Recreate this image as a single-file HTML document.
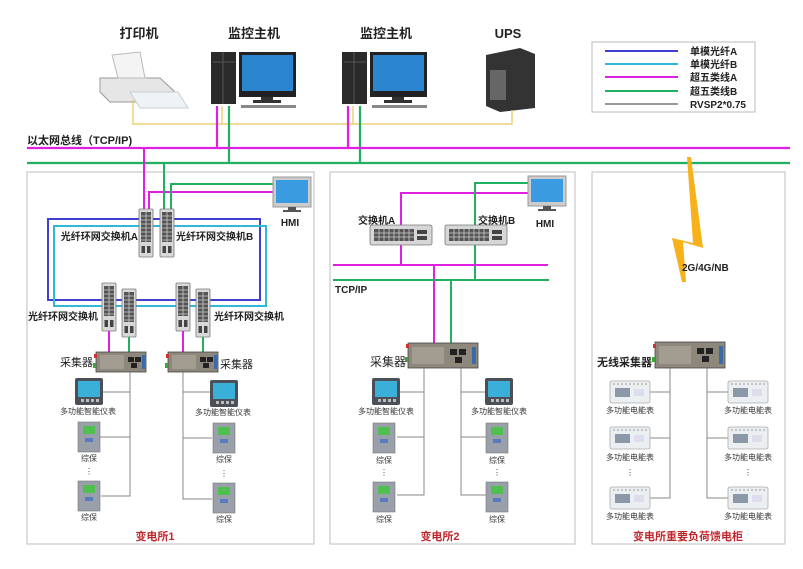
<!DOCTYPE html>
<html><head><meta charset="utf-8"><style>
html,body{margin:0;padding:0;background:#fff;}
svg{display:block;font-family:"Liberation Sans","Noto Sans CJK SC",sans-serif;}
.b{font-weight:bold;}
</style></head><body>
<svg width="803" height="569" viewBox="0 0 803 569" xmlns="http://www.w3.org/2000/svg">
<defs>
 <g id="sw">
  <rect x="0" y="0" width="14" height="48" rx="1" fill="#d8d8d8" stroke="#777" stroke-width="0.8"/>
  <rect x="2" y="3" width="10" height="30" fill="#555"/>
  <path d="M2 7H12M2 11H12M2 15H12M2 19H12M2 23H12M2 27H12M2 31H12M7 3V33" stroke="#ccc" stroke-width="0.8"/>
  <rect x="2.5" y="37" width="3.5" height="7" fill="#444"/><rect x="8" y="37" width="3.5" height="7" fill="#444"/>
 </g>
 <g id="sw2">
  <rect x="0" y="0" width="62" height="20" rx="2" fill="#d6d6d6" stroke="#777" stroke-width="0.8"/>
  <rect x="4" y="4" width="40" height="12" fill="#555"/>
  <path d="M4 8H44M4 12H44M9 4V16M14 4V16M19 4V16M24 4V16M29 4V16M34 4V16M39 4V16" stroke="#ccc" stroke-width="0.8"/>
  <rect x="47" y="5" width="10" height="4" fill="#444"/><rect x="47" y="11" width="10" height="4" fill="#444"/>
 </g>
 <g id="col">
  <rect x="0" y="0" width="50" height="20" fill="#8e877c" stroke="#444" stroke-width="0.8"/>
  <rect x="4" y="3" width="24" height="14" fill="#a39c90"/>
  <rect x="32" y="5" width="6" height="5" fill="#222"/><rect x="39" y="5" width="6" height="5" fill="#222"/><rect x="35" y="11" width="6" height="5" fill="#222"/>
  <rect x="46" y="3" width="3" height="14" fill="#3a6aa8"/>
  <rect x="-3" y="11" width="3" height="5" fill="#3a3"/><rect x="-2" y="2" width="3" height="4" fill="#c33"/>
 </g>
 <g id="met">
  <rect x="0" y="0" width="28" height="27" rx="2" fill="#4a4f58"/>
  <rect x="3" y="3" width="22" height="16" fill="#3ab0d8"/>
  <rect x="6" y="21" width="3" height="3" fill="#bbb"/><rect x="11" y="21" width="3" height="3" fill="#bbb"/><rect x="16" y="21" width="3" height="3" fill="#bbb"/><rect x="21" y="21" width="3" height="3" fill="#bbb"/>
 </g>
 <g id="rel">
  <rect x="0" y="0" width="22" height="30" fill="#9aa0aa" stroke="#777" stroke-width="0.6"/>
  <rect x="5" y="4" width="12" height="8" fill="#4fbf4f"/>
  <rect x="7" y="16" width="8" height="4" fill="#5a7ac0"/>
 </g>
 <g id="em">
  <rect x="0" y="0" width="40" height="22" rx="2" fill="#eceff2" stroke="#aaa" stroke-width="0.8"/>
  <path d="M3 3H37" stroke="#999" stroke-dasharray="2 2"/>
  <rect x="5" y="7" width="15" height="9" fill="#8a98a8"/>
  <rect x="24" y="8" width="10" height="7" fill="#dde"/>
 </g>
 <g id="hmi">
  <rect x="0" y="0" width="38" height="30" fill="#ccc" stroke="#999"/>
  <rect x="3" y="3" width="32" height="23" fill="#3a9be0"/>
  <rect x="15" y="30" width="8" height="3" fill="#555"/><rect x="10" y="33" width="18" height="2" fill="#555"/>
 </g>
 <g id="pc">
  <rect x="0" y="0" width="25" height="52" fill="#2a2a2a"/>
  <path d="M12 0V52M2 10H24" stroke="#555"/>
  <rect x="28" y="0" width="57" height="45" fill="#222"/>
  <rect x="31" y="3" width="51" height="36" fill="#2b86cf"/>
  <rect x="50" y="45" width="12" height="5" fill="#333"/><rect x="42" y="48" width="28" height="3" fill="#333"/>
  <rect x="30" y="53" width="55" height="3" fill="#888"/>
 </g>
</defs>

<g class="b" font-size="13" fill="#222" text-anchor="middle">
 <text x="139" y="38">打印机</text><text x="254" y="38">监控主机</text><text x="386" y="38">监控主机</text><text x="508" y="38">UPS</text>
</g>
<polygon points="100,78 160,78 175,92 175,102 110,102 100,92" fill="#e6e6e6" stroke="#999"/>
<polygon points="112,55 140,52 145,78 118,78" fill="#f4f4f4" stroke="#bbb"/>
<polygon points="130,92 178,92 188,108 140,108" fill="#eef3f8" stroke="#ccc"/>
<use href="#pc" x="211" y="52"/>
<use href="#pc" x="342" y="52"/>
<polygon points="486,55 520,48 535,54 535,108 500,112 486,106" fill="#333"/>
<rect x="490" y="70" width="16" height="30" fill="#666"/>
<path d="M133 100V124H512V110M222 106V124M353 106V124" stroke="#e8c85a" stroke-width="1.2" fill="none"/>
<path d="M217 106V148M348 106V148" stroke="#e020e0" stroke-width="2.2"/>
<path d="M229 106V163M360 106V163" stroke="#20b060" stroke-width="2.2"/>
<text x="27" y="144" class="b" font-size="11" fill="#222">以太网总线（TCP/IP)</text>
<path d="M27 148H790" stroke="#e020e0" stroke-width="2.2"/>
<path d="M27 163H790" stroke="#20b060" stroke-width="2.2"/>

<rect x="592" y="42" width="163" height="70" fill="#fff" stroke="#bbb"/>
<path d="M605 51H678" stroke="#4040d0" stroke-width="2"/>
<path d="M605 64H678" stroke="#30b8d8" stroke-width="2"/>
<path d="M605 77H678" stroke="#e020e0" stroke-width="2"/>
<path d="M605 91H678" stroke="#20b060" stroke-width="2"/>
<path d="M605 104H678" stroke="#777" stroke-width="1.5"/>
<g font-size="10" fill="#222" class="b"><text x="690" y="55">单模光纤A</text><text x="690" y="68">单模光纤B</text><text x="690" y="81">超五类线A</text><text x="690" y="95">超五类线B</text><text x="690" y="108">RVSP2*0.75</text></g>

<rect x="27" y="172" width="287" height="372" fill="none" stroke="#c8c8c8" stroke-width="1.2"/>
<rect x="330" y="172" width="245" height="372" fill="none" stroke="#c8c8c8" stroke-width="1.2"/>
<rect x="592" y="172" width="193" height="372" fill="none" stroke="#c8c8c8" stroke-width="1.2"/>

<polygon points="687,157 691,157 703,248 683,242 686,282 682,282 672,238 693,243" fill="#f7b21a"/>
<text x="682" y="271" class="b" font-size="10" fill="#222">2G/4G/NB</text>

<path d="M144 148V210M149 210V192H276" stroke="#e020e0" stroke-width="2" fill="none"/>
<path d="M164 163V210M171 210V184H276" stroke="#20b060" stroke-width="2" fill="none"/>
<use href="#hmi" x="273" y="177"/>
<text x="290" y="226" class="b" font-size="10" text-anchor="middle" fill="#222">HMI</text>
<rect x="48" y="219" width="212" height="81" fill="none" stroke="#4040d0" stroke-width="2"/>
<rect x="54" y="226" width="212" height="80" fill="none" stroke="#30b8d8" stroke-width="2"/>
<use href="#sw" x="139" y="209"/><use href="#sw" x="160" y="209"/>
<text x="138" y="240" font-size="10" class="b" text-anchor="end" fill="#222">光纤环网交换机A</text>
<text x="176" y="240" font-size="10" class="b" fill="#222">光纤环网交换机B</text>
<use href="#sw" x="102" y="283"/><use href="#sw" x="122" y="289"/>
<use href="#sw" x="176" y="283"/><use href="#sw" x="196" y="289"/>
<text x="28" y="320" font-size="10" class="b" fill="#222">光纤环网交换机</text>
<text x="214" y="320" font-size="10" class="b" fill="#222">光纤环网交换机</text>
<path d="M109 331V352M183 331V352" stroke="#e020e0" stroke-width="2"/>
<path d="M129 337V352M203 337V352" stroke="#20b060" stroke-width="2"/>
<use href="#col" x="96" y="352"/><use href="#col" x="168" y="352"/>
<text x="60" y="366" font-size="11" fill="#222">采集器</text>
<text x="220" y="368" font-size="11" fill="#222">采集器</text>
<path d="M130 372V496H101M130 392H103M130 437H100M183 372V499H212M183 392H210M183 438H212" stroke="#888" stroke-width="1" fill="none"/>
<use href="#met" x="75" y="378"/><use href="#met" x="210" y="380"/>
<g font-size="8" fill="#333" text-anchor="middle">
<text x="88" y="414">多功能智能仪表</text><text x="223" y="415">多功能智能仪表</text>
<text x="89" y="461">综保</text><text x="89" y="520">综保</text><text x="224" y="462">综保</text><text x="224" y="522">综保</text>
<text x="89" y="474">⋮</text><text x="224" y="476">⋮</text>
</g>
<use href="#rel" x="78" y="422"/><use href="#rel" x="78" y="481"/>
<use href="#rel" x="213" y="423"/><use href="#rel" x="213" y="483"/>
<text x="155" y="540" font-size="11" fill="#c0272d" class="b" text-anchor="middle">变电所1</text>

<path d="M401 235V193H530M401 245V265M434 265V343" stroke="#e020e0" stroke-width="2" fill="none"/>
<path d="M475 280V183H530M451 280V343" stroke="#20b060" stroke-width="2" fill="none"/>
<use href="#hmi" x="528" y="176"/>
<text x="545" y="227" class="b" font-size="10" text-anchor="middle" fill="#222">HMI</text>
<use href="#sw2" x="370" y="225"/><use href="#sw2" x="445" y="225"/>
<text x="358" y="224" font-size="10" class="b" fill="#222">交换机A</text>
<text x="478" y="224" font-size="10" class="b" fill="#222">交换机B</text>
<path d="M333 265H548" stroke="#e020e0" stroke-width="2"/>
<path d="M333 280H549" stroke="#20b060" stroke-width="2"/>
<text x="335" y="293" font-size="10" class="b" fill="#222">TCP/IP</text>
<rect x="408" y="343" width="70" height="25" fill="#8e877c" stroke="#444" stroke-width="0.8"/>
<rect x="412" y="347" width="32" height="17" fill="#a39c90"/>
<rect x="450" y="349" width="7" height="6" fill="#222"/><rect x="459" y="349" width="7" height="6" fill="#222"/><rect x="455" y="357" width="7" height="6" fill="#222"/><rect x="472" y="347" width="4" height="17" fill="#3a6aa8"/>
<rect x="405" y="357" width="3" height="5" fill="#3a3"/><rect x="406" y="344" width="3" height="4" fill="#c33"/>
<text x="370" y="366" font-size="12" fill="#222">采集器</text>
<path d="M424 368V495H397M424 392H399M424 437H397M461 368V495H486M461 392H485M461 437H486" stroke="#888" stroke-width="1" fill="none"/>
<use href="#met" x="372" y="378"/><use href="#met" x="485" y="378"/>
<g font-size="8" fill="#333" text-anchor="middle">
<text x="386" y="414">多功能智能仪表</text><text x="499" y="414">多功能智能仪表</text>
<text x="384" y="463">综保</text><text x="384" y="522">综保</text><text x="497" y="463">综保</text><text x="497" y="522">综保</text>
<text x="384" y="475">⋮</text><text x="497" y="475">⋮</text>
</g>
<use href="#rel" x="373" y="423"/><use href="#rel" x="373" y="482"/>
<use href="#rel" x="486" y="423"/><use href="#rel" x="486" y="482"/>
<text x="440" y="540" font-size="11" fill="#c0272d" class="b" text-anchor="middle">变电所2</text>

<rect x="655" y="342" width="70" height="26" fill="#8e877c" stroke="#444" stroke-width="0.8"/>
<rect x="659" y="346" width="32" height="18" fill="#a39c90"/>
<rect x="697" y="348" width="7" height="6" fill="#222"/><rect x="706" y="348" width="7" height="6" fill="#222"/><rect x="702" y="356" width="7" height="6" fill="#222"/><rect x="719" y="346" width="4" height="18" fill="#3a6aa8"/>
<rect x="652" y="357" width="3" height="5" fill="#3a3"/><rect x="653" y="344" width="3" height="4" fill="#c33"/>
<text x="597" y="366" font-size="11" class="b" fill="#222">无线采集器</text>
<path d="M670 368V498H650M670 392H650M670 438H650M707 368V498H728M707 392H728M707 438H728" stroke="#888" stroke-width="1" fill="none"/>
<use href="#em" x="610" y="381"/><use href="#em" x="610" y="427"/><use href="#em" x="610" y="487"/>
<use href="#em" x="728" y="381"/><use href="#em" x="728" y="427"/><use href="#em" x="728" y="487"/>
<g font-size="8" fill="#333" text-anchor="middle">
<text x="630" y="413">多功能电能表</text><text x="630" y="460">多功能电能表</text><text x="630" y="519">多功能电能表</text>
<text x="748" y="413">多功能电能表</text><text x="748" y="460">多功能电能表</text><text x="748" y="519">多功能电能表</text>
<text x="630" y="475">⋮</text><text x="748" y="475">⋮</text>
</g>
<text x="688" y="540" font-size="11" fill="#c0272d" class="b" text-anchor="middle">变电所重要负荷馈电柜</text>
</svg>
</body></html>
